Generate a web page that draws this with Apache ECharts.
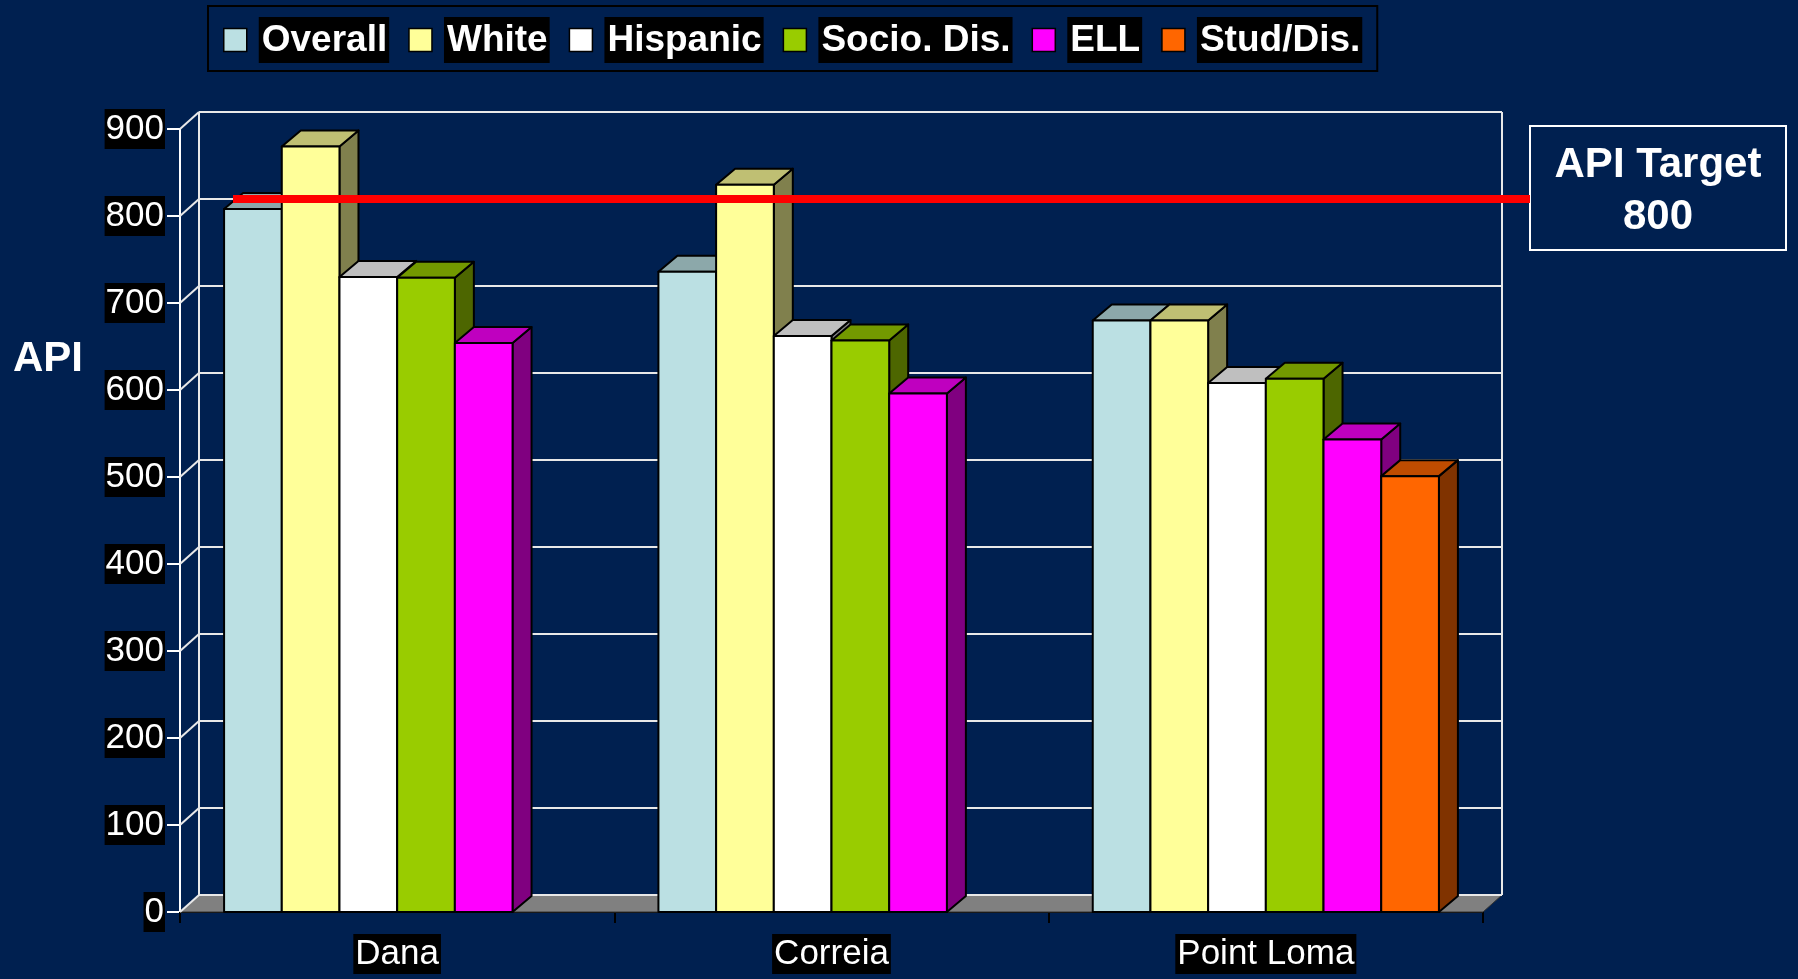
<!DOCTYPE html>
<html>
<head>
<meta charset="utf-8">
<script src="https://cdn.jsdelivr.net/npm/echarts@6/dist/echarts.min.js"></script>
<style>
html,body{margin:0;padding:0;background:#002050;}
#chart{width:1798px;height:979px;}
</style>
</head>
<body>
<div id="chart"></div>
<script>
// ---- data ----
var categories = ['Dana', 'Correia', 'Point Loma'];
var seriesNames = ['Overall', 'White', 'Hispanic', 'Socio. Dis.', 'ELL', 'Stud/Dis.'];
var overall  = [808, 736, 680];
var white    = [880, 836, 680];
var hispanic = [730, 662, 608];
var socioDis = [729, 657, 613];
var ell      = [654, 596, 543];
var studDis  = [null, null, 501];
var yTicks = [0, 100, 200, 300, 400, 500, 600, 700, 800, 900];
var apiTarget = 800;

// ---- styles ----
var FONT = '"Liberation Sans", Arial, sans-serif';
var BG = '#002050';
var palette = [
  {front:'#BBE0E3', top:'#8CA8AA', side:'#5E7072'},
  {front:'#FFFF99', top:'#BFBF73', side:'#80804D'},
  {front:'#FFFFFF', top:'#BFBFBF', side:'#808080'},
  {front:'#99CC00', top:'#739900', side:'#4D6600'},
  {front:'#FF00FF', top:'#BF00BF', side:'#800080'},
  {front:'#FF6600', top:'#BF4C00', side:'#803300'}
];
var seriesValues = [overall, white, hispanic, socioDis, ell, studDis];
var WX = 19, WY = -17;   // wall depth
var BX = 19, BY = -16;   // bar depth
var CLUSTER = 0.797;
var N = seriesNames.length;

function barRender(si) {
  var c = palette[si];
  return function (params, api) {
    var v = api.value(1);
    if (v == null || isNaN(v)) return;
    var ci = api.value(0);
    var base = api.coord([ci, 0]);
    var top = api.coord([ci, v]);
    var band = api.size([1, 0])[0];
    var bw = band * CLUSTER / N;
    var x0 = base[0] - band * CLUSTER / 2 + si * bw;
    var x1 = x0 + bw;
    var yb = base[1], yt = top[1];
    var st = {stroke:'#000', lineWidth:2, lineJoin:'round'};
    return {type:'group', children:[
      {type:'polygon', shape:{points:[[x1,yt],[x1+BX,yt+BY],[x1+BX,yb+BY],[x1,yb]]},
        style:Object.assign({fill:c.side}, st)},
      {type:'polygon', shape:{points:[[x0,yt],[x0+BX,yt+BY],[x1+BX,yt+BY],[x1,yt]]},
        style:Object.assign({fill:c.top}, st)},
      {type:'rect', shape:{x:x0, y:yt, width:bw, height:yb-yt},
        style:Object.assign({fill:c.front}, st)}
    ]};
  };
}

function frameRender(params, api) {
  var cs = params.coordSys;
  var v = api.value(1);
  var y = api.coord([0, v])[1];
  var L = cs.x, R = cs.x + cs.width;
  var ch = [];
  var ls = {stroke:'#E8E8E8', lineWidth:2};
  if (params.dataIndex === 0) {
    var yTop = api.coord([0, yTicks[yTicks.length - 1]])[1];
    ch.push({type:'polygon', shape:{points:[[L,y],[L+WX,y+WY],[R+WX,y+WY],[R,y]]},
      style:{fill:'#808080', stroke:'#333', lineWidth:1}});
    ch.push({type:'line', shape:{x1:L+WX, y1:yTop+WY, x2:L+WX, y2:y+WY}, style:ls});
    ch.push({type:'line', shape:{x1:R+WX, y1:yTop+WY, x2:R+WX, y2:y+WY}, style:ls});
  }
  ch.push({type:'line', shape:{x1:L+WX, y1:y+WY, x2:R+WX, y2:y+WY}, style:ls});
  ch.push({type:'line', shape:{x1:L, y1:y, x2:L+WX, y2:y+WY}, style:ls});
  return {type:'group', children:ch};
}

function targetRender(params, api) {
  var cs = params.coordSys;
  var y = api.coord([0, api.value(1)])[1] + WY;
  return {type:'line', shape:{x1:cs.x + 53, y1:y, x2:cs.x + cs.width + 47, y2:y},
    style:{stroke:'#FF0000', lineWidth:8}};
}

var series = [{
  type:'custom', name:'frame', z:1, silent:true,
  renderItem: frameRender,
  encode:{x:0, y:1},
  data: yTicks.map(function (t) { return [0, t]; })
}];
seriesNames.forEach(function (name, si) {
  series.push({
    type:'custom', name:name, z:2,
    itemStyle:{color:palette[si].front},
    renderItem: barRender(si),
    encode:{x:0, y:1},
    data: categories.map(function (c, i) { return [i, seriesValues[si][i]]; })
  });
});
series.push({
  type:'custom', name:'API Target', z:3, silent:true,
  renderItem: targetRender,
  encode:{x:0, y:1},
  data: [[0, apiTarget]]
});

var chart = echarts.init(document.getElementById('chart'));
chart.setOption({
  backgroundColor: BG,
  animation: false,
  grid: {left:180, top:129, right:315, bottom:67, containLabel:false},
  legend: {
    left:208, top:6,
    padding:[11, 15, 8, 15],
    borderColor:'#000', borderWidth:2,
    itemWidth:23, itemHeight:23, itemGap:19,
    icon:'rect',
    itemStyle:{borderColor:'#000', borderWidth:1.5},
    data: seriesNames,
    formatter: function (n) { return '{a|' + n + '}'; },
    textStyle: {
      padding:[0, 0, 0, 7],
      rich: {a: {color:'#fff', fontSize:37, fontWeight:'bold', fontFamily:FONT,
        backgroundColor:'#000', padding:[5, 2, 4, 3], lineHeight:38}}
    }
  },
  xAxis: {
    type:'category', data: categories, boundaryGap:true,
    axisLine:{show:true, lineStyle:{color:'#000', width:2}},
    axisTick:{show:true, length:11, lineStyle:{color:'#000', width:2}},
    axisLabel:{color:'#fff', fontSize:35, fontFamily:FONT, backgroundColor:'#000',
      padding:[3, 2, 2, 2], margin:22}
  },
  yAxis: {
    type:'value', min:0, max:900, interval:100,
    axisLine:{show:true, lineStyle:{color:'#fff', width:2}},
    axisTick:{show:true, length:13, lineStyle:{color:'#fff', width:2}},
    splitLine:{show:false},
    axisLabel:{color:'#fff', fontSize:35, fontFamily:FONT, backgroundColor:'#000',
      padding:[3, 1, 2, 1], margin:15}
  },
  graphic: [
    {type:'text', left:13, top:338, style:{text:'API', fill:'#fff', font:'bold 42px ' + FONT}},
    {type:'rect', shape:{x:1530, y:126, width:256, height:124},
      style:{fill:'none', stroke:'#fff', lineWidth:2}},
    {type:'text', x:1658, y:191, style:{text:'API Target\n800', fill:'#fff',
      font:'bold 42px ' + FONT, lineHeight:52, align:'center', verticalAlign:'middle'}}
  ],
  series: series
});
</script>
</body>
</html>
